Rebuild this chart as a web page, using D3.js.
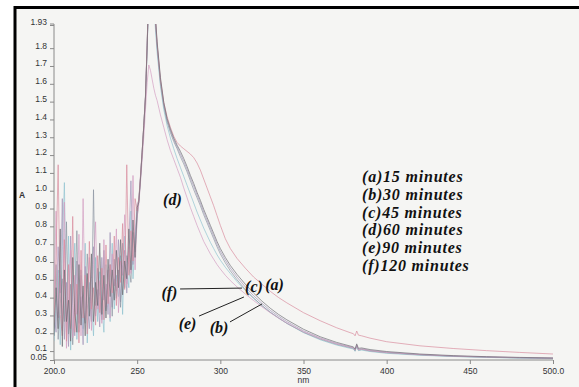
<!DOCTYPE html>
<html><head><meta charset="utf-8">
<script src="https://cdn.jsdelivr.net/npm/d3@7"></script>
<style>
html,body{margin:0;padding:0;background:#fff;}
svg{display:block;}
</style></head>
<body>
<script>
// ---- DATA ----
const wavelengths = [
 200,201.25,202.5,203.75,205,206.25,207.5,208.75,210,211.25,212.5,213.75,215,216.25,217.5,218.75,220,221.25,222.5,223.75,
 225,226.25,227.5,228.75,230,231.25,232.5,233.75,235,236.25,237.5,238.75,240,241.25,242.5,243.75,245,246.25,247.5,248.75,250,
 251,252,253,254,255,256,257,258,259,260,261,262,264,266,268,270,272,
 274,276,278,280,282,284,286,288,290,292,294,296,298,300,
 303,306,310,315,320,325,330,335,340,
 350,360,370,378,380,381,382,383,385,390,400,420,440,460,480,500];

const seriesA = [ // 15 minutes
 0.25,0.62,1.14,0.30,0.18,0.72,0.15,0.58,0.22,0.85,0.20,0.47,0.14,0.66,0.28,0.52,0.19,0.71,0.33,0.45,
 0.24,0.63,0.31,0.56,0.27,0.69,0.36,0.58,0.42,0.74,0.35,0.62,0.48,0.81,0.44,1.14,0.52,0.77,0.60,0.95,0.88,
 0.95,1.08,1.22,1.37,1.53,1.82,2.15,2.35,2.30,2.12,1.96,1.82,1.62,1.49,1.41,1.35,1.30,
 1.265,1.245,1.23,1.215,1.20,1.18,1.15,1.11,1.06,1.01,0.96,0.91,0.855,0.80,
 0.725,0.67,0.615,0.56,0.51,0.47,0.43,0.395,0.365,
 0.31,0.265,0.225,0.198,0.192,0.18,0.207,0.184,0.18,0.167,0.147,0.124,0.109,0.097,0.087,0.078];
const seriesB = [ // 30 minutes
 0.18,0.45,0.22,0.78,0.12,0.55,0.26,0.38,0.15,0.62,0.31,0.20,0.58,0.24,0.46,0.18,0.53,0.29,0.64,0.26,
 0.48,0.35,0.70,0.30,0.52,0.28,0.61,0.40,0.55,0.38,0.66,0.45,0.72,0.41,0.60,0.50,0.78,0.55,0.83,0.62,0.90,
 0.93,1.06,1.21,1.36,1.52,1.80,2.12,2.33,2.30,2.13,1.97,1.83,1.63,1.49,1.40,1.34,1.29,
 1.25,1.215,1.175,1.13,1.08,1.035,0.985,0.94,0.89,0.845,0.80,0.755,0.71,0.67,
 0.62,0.575,0.525,0.47,0.42,0.375,0.335,0.30,0.27,
 0.217,0.175,0.143,0.123,0.118,0.105,0.135,0.11,0.112,0.103,0.092,0.078,0.069,0.063,0.059,0.056];
const seriesC = [ // 45 minutes
 0.32,0.20,0.68,0.42,0.95,0.16,0.48,0.12,0.74,0.35,0.18,0.60,0.25,0.40,0.13,0.57,0.36,0.22,0.50,0.68,
 0.29,0.44,0.23,0.62,0.38,0.47,0.30,0.76,0.34,0.50,0.43,0.72,0.37,0.58,0.66,0.42,0.70,1.05,0.58,0.75,0.92,
 0.94,1.07,1.21,1.36,1.52,1.81,2.13,2.34,2.29,2.12,1.95,1.81,1.61,1.48,1.39,1.33,1.28,
 1.24,1.20,1.16,1.115,1.065,1.02,0.97,0.925,0.875,0.83,0.785,0.74,0.695,0.655,
 0.605,0.56,0.51,0.455,0.405,0.362,0.323,0.29,0.26,
 0.208,0.168,0.137,0.118,0.113,0.10,0.128,0.104,0.107,0.098,0.088,0.075,0.066,0.061,0.057,0.054];
const seriesD = [ // 60 minutes
 0.40,0.88,0.28,0.52,0.21,0.93,0.11,0.40,0.66,0.17,0.52,0.30,0.75,0.18,0.95,0.27,0.44,0.62,0.21,0.58,
 0.82,0.33,0.49,0.25,0.72,0.34,0.55,0.28,0.64,0.46,0.78,0.31,0.60,0.52,0.86,0.47,0.68,0.53,1.08,0.55,0.85,
 0.92,1.04,1.17,1.30,1.45,1.60,1.70,1.67,1.62,1.57,1.53,1.50,1.42,1.35,1.28,1.22,1.17,
 1.12,1.07,1.01,0.955,0.90,0.85,0.80,0.755,0.71,0.675,0.64,0.61,0.58,0.555,
 0.52,0.49,0.455,0.415,0.378,0.343,0.31,0.28,0.252,
 0.203,0.165,0.135,0.117,0.113,0.10,0.127,0.103,0.106,0.097,0.087,0.075,0.067,0.062,0.058,0.055];
const seriesE = [ // 90 minutes
 0.15,0.35,0.55,0.13,0.68,1.04,0.20,0.74,0.10,0.45,0.70,0.16,0.38,0.52,0.22,0.70,0.14,0.48,0.37,0.18,
 0.62,0.26,0.54,0.36,0.20,0.58,0.42,0.26,0.70,0.33,0.52,0.40,0.63,0.30,0.74,0.56,0.45,0.88,0.50,0.70,0.86,
 0.94,1.07,1.21,1.36,1.52,1.80,2.10,2.28,2.22,2.05,1.90,1.77,1.58,1.45,1.36,1.29,1.23,
 1.175,1.125,1.075,1.025,0.975,0.925,0.875,0.83,0.785,0.745,0.705,0.67,0.635,0.605,
 0.565,0.53,0.485,0.435,0.39,0.35,0.313,0.28,0.25,
 0.198,0.158,0.128,0.11,0.106,0.093,0.12,0.097,0.10,0.092,0.082,0.071,0.064,0.059,0.055,0.052];
const seriesF = [ // 120 minutes
 0.22,0.58,0.16,0.36,0.50,0.26,0.82,0.19,0.47,0.13,0.36,0.77,0.20,0.55,0.34,0.25,0.64,0.40,0.26,1.00,
 0.35,0.56,0.40,0.27,0.66,0.32,0.48,0.58,0.29,0.61,0.39,0.55,0.34,0.70,0.45,0.63,0.58,0.48,0.76,0.65,0.84,
 0.94,1.07,1.21,1.36,1.52,1.81,2.13,2.34,2.29,2.11,1.94,1.80,1.60,1.47,1.38,1.32,1.27,
 1.23,1.185,1.145,1.10,1.05,1.00,0.955,0.91,0.86,0.815,0.77,0.725,0.68,0.64,
 0.59,0.545,0.495,0.44,0.392,0.35,0.312,0.28,0.25,
 0.20,0.162,0.132,0.114,0.11,0.097,0.124,0.10,0.104,0.095,0.085,0.073,0.065,0.06,0.056,0.053];

const seriesNames = ["(a)15 minutes","(b)30 minutes","(c)45 minutes","(d)60 minutes","(e)90 minutes","(f)120 minutes"];
const seriesColors = ["#d98a9c","#6b6b72","#a194b8","#d39cc0","#8fc2cf","#8a93a0"];
const yTickValues = [0.05,0.1,0.2,0.3,0.4,0.5,0.6,0.7,0.8,0.9,1.0,1.1,1.2,1.3,1.4,1.5,1.6,1.7,1.8,1.93];
const yTickLabels = ["0.05","0.1","0.2","0.3","0.4","0.5","0.6","0.7","0.8","0.9","1.0","1.1","1.2","1.3","1.4","1.5","1.6","1.7","1.8","1.93"];
const xTickValues = [200,250,300,350,400,450,500];
const xTickLabels = ["200.0","250","300","350","400","450","500.0"];
// curve labels: [text, wavelength, absorbance]
const curveLabels = [["(d)",271.2,0.914],["(f)",269.4,0.392],["(e)",280.3,0.218],["(b)",299.2,0.196],["(c)",320.2,0.426],["(a)",332.6,0.437]];
// pointer lines: [fromNm, fromA, toNm, toA]
const pointers = [[275.8,0.443,313.0,0.448],[287.2,0.291,314.2,0.398],[305.8,0.258,325.1,0.359]];

// ---- DRAW ----
const W = 579, H = 387;
const svg = d3.select("body").append("svg").attr("width", W).attr("height", H);
svg.append("rect").attr("width", W).attr("height", H).attr("fill", "#ffffff");
svg.append("rect").attr("x", 15).attr("y", 7).attr("width", W - 15).attr("height", H - 7).attr("fill", "#f5f5f3");
svg.append("line").attr("x1", 14).attr("x2", W).attr("y1", 7.5).attr("y2", 7.5).attr("stroke", "#000").attr("stroke-width", 3);
svg.append("line").attr("x1", 15).attr("x2", 15).attr("y1", 6).attr("y2", H).attr("stroke", "#000").attr("stroke-width", 3);

const x = d3.scaleLinear().domain([200, 500]).range([54, 553]);
const y = d3.scaleLinear().domain([0.05, 1.93]).range([359, 24]);

svg.append("defs").append("clipPath").attr("id", "plotclip")
  .append("rect").attr("x", x(200)).attr("y", y(1.93)).attr("width", x(500) - x(200)).attr("height", y(0) - y(1.93));

const yAxis = d3.axisLeft(y).tickValues(yTickValues).tickSize(4).tickFormat((d, i) => yTickLabels[i]);
const gy = svg.append("g").attr("transform", `translate(${x(200)},0)`).call(yAxis);
gy.select(".domain").attr("stroke", "#8a8a8a").attr("d", `M-4,${y(1.93)}H0V${y(0.05)+1}`);
gy.selectAll(".tick line").attr("stroke", "#8a8a8a").attr("transform", "translate(0,1)");
gy.selectAll(".tick text").attr("font-family", "Liberation Sans, Arial, sans-serif").attr("font-size", 8.5)
  .attr("fill", "#333").attr("dy", "0.1em");

const xAxis = d3.axisBottom(x).tickValues(xTickValues).tickSize(4).tickFormat((d, i) => xTickLabels[i]);
const gx = svg.append("g").attr("transform", `translate(0,${y(0.05)+1})`).call(xAxis);
gx.select(".domain").attr("stroke", "#8a8a8a").attr("d", `M${x(200)},0H${x(500)}`);
gx.selectAll(".tick line").attr("stroke", "#8a8a8a");
gx.selectAll(".tick text").attr("font-family", "Liberation Sans, Arial, sans-serif").attr("font-size", 8.5)
  .attr("fill", "#333").attr("y", 8);

svg.append("text").attr("x", x(350)).attr("y", 383).attr("text-anchor", "middle")
  .attr("font-family", "Liberation Sans, Arial, sans-serif").attr("font-size", 8.5).attr("fill", "#333").text("nm");
svg.append("text").attr("x", 22).attr("y", 198).attr("text-anchor", "middle")
  .attr("font-family", "Liberation Sans, Arial, sans-serif").attr("font-size", 8.5).attr("font-weight", "bold").attr("fill", "#333").text("A");

const allSeries = [seriesA, seriesB, seriesC, seriesD, seriesE, seriesF];
const line = d3.line().x((d, i) => x(wavelengths[i])).y(d => y(d));
const plot = svg.append("g").attr("clip-path", "url(#plotclip)");
const order = [4, 2, 5, 3, 0, 1];
order.forEach(k => {
  plot.append("path").datum(allSeries[k]).attr("d", line)
    .attr("fill", "none").attr("stroke", seriesColors[k]).attr("stroke-width", 0.85).attr("stroke-opacity", 0.8);
});

const legend = svg.append("g");
seriesNames.forEach((n, i) => {
  legend.append("text").attr("x", 362).attr("y", 182 + i * 17.8)
    .attr("font-family", "Liberation Serif, Times New Roman, serif").attr("font-style", "italic").attr("font-weight", "bold")
    .attr("font-size", 16).attr("letter-spacing", 0.8).attr("fill", "#111").text(n);
});

curveLabels.forEach(c => {
  svg.append("text").attr("x", x(c[1])).attr("y", y(c[2]))
    .attr("font-family", "Liberation Serif, Times New Roman, serif").attr("font-style", "italic").attr("font-weight", "bold")
    .attr("font-size", 16).attr("fill", "#111").attr("text-anchor", "middle").text(c[0]);
});
pointers.forEach(p => {
  svg.append("line").attr("x1", x(p[0])).attr("y1", y(p[1])).attr("x2", x(p[2])).attr("y2", y(p[3]))
    .attr("stroke", "#222").attr("stroke-width", 1);
});
</script>
</body></html>
